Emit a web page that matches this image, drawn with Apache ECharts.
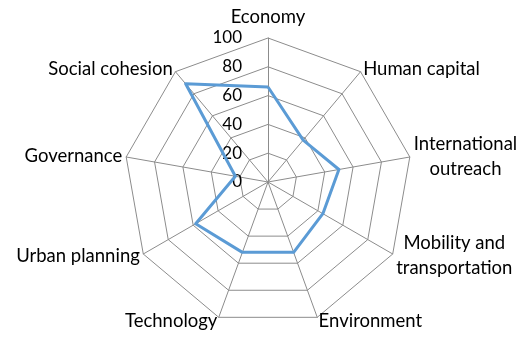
<!DOCTYPE html>
<html lang="en">
<head>
  <meta charset="UTF-8">
  <title>Radar</title>
  <style>
    * { margin: 0; padding: 0; }
    body { background: #ffffff; }
    #main { width: 529px; height: 338px; }
  </style>
</head>
<body>
  <div id="main"></div>
  <script src="https://cdn.jsdelivr.net/npm/echarts@6/dist/echarts.min.js"></script>
  <script>
    // clockwise order, starting at the top
    var categories = ['Economy', 'Human capital', 'International\noutreach', 'Mobility and\ntransportation',
      'Environment', 'Technology', 'Urban planning', 'Governance', 'Social cohesion'];
    var values = [66, 38, 50, 44, 52, 52, 58, 23, 89];
    var maxValue = 100;

    // echarts lays indicators out counter-clockwise, so keep the first and reverse the rest
    var order = [0].concat(categories.map(function (c, i) { return i; }).slice(1).reverse());

    var myChart = echarts.init(document.getElementById('main'));
    var option = {
      animation: false,
      radar: {
        center: [268, 182],
        radius: 144,
        startAngle: 90,
        splitNumber: 5,
        shape: 'polygon',
        indicator: order.map(function (i, k) {
          var ind = { name: categories[i], max: maxValue, min: 0 };
          if (k === 0) {
            ind.axisLabel = { show: true };
          }
          return ind;
        }),
        axisName: {
          color: '#000',
          fontFamily: 'Lato',
          fontSize: 18.5,
          lineHeight: 25,
          // centre each line of two-line names
          formatter: function (name) {
            return name.split('\n').map(function (s) { return '{c|' + s + '}'; }).join('\n');
          },
          rich: {
            c: { align: 'center', fontFamily: 'Lato', fontSize: 18.5, lineHeight: 25, color: '#000' }
          }
        },
        nameGap: 4,
        axisLine: { lineStyle: { color: '#8c8c8c', width: 1 } },
        splitLine: { lineStyle: { color: '#8c8c8c', width: 1 } },
        splitArea: { show: false },
        axisTick: { show: false },
        axisLabel: {
          show: false,
          color: '#000',
          fontFamily: 'Lato',
          fontSize: 17,
          margin: 26
        }
      },
      series: [{
        type: 'radar',
        symbol: 'none',
        lineStyle: { color: '#5b9bd5', width: 3 },
        data: [{ value: order.map(function (i) { return values[i]; }) }]
      }]
    };
    myChart.setOption(option);
  </script>
</body>
</html>
